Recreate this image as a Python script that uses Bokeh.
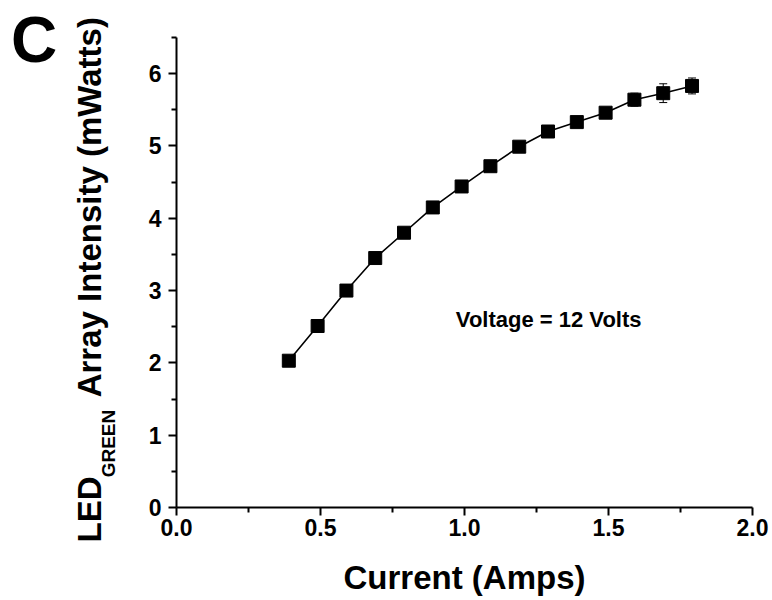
import math
import numpy as np
from bokeh.plotting import figure
from bokeh.models import ColumnDataSource, Whisker, TeeHead, Label, FixedTicker
from bokeh.embed import file_html
from bokeh.resources import INLINE

# ---- data ----
current_amps = [0.39, 0.49, 0.59, 0.69, 0.79, 0.89, 0.99, 1.09, 1.19, 1.29, 1.39, 1.49, 1.59, 1.69, 1.79]
intensity_mw = [2.03, 2.51, 3.00, 3.45, 3.80, 4.15, 4.44, 4.72, 4.99, 5.20, 5.33, 5.46, 5.64, 5.73, 5.83]
intensity_err = [0.02, 0.02, 0.03, 0.03, 0.03, 0.04, 0.04, 0.05, 0.05, 0.05, 0.06, 0.07, 0.09, 0.13, 0.11]

x_ticks = [0.0, 0.5, 1.0, 1.5, 2.0]
x_tick_labels = ["0.0", "0.5", "1.0", "1.5", "2.0"]
x_minor = [0.25, 0.75, 1.25, 1.75]
y_ticks = [0, 1, 2, 3, 4, 5, 6]
y_tick_labels = ["0", "1", "2", "3", "4", "5", "6"]
y_minor = [0.5, 1.5, 2.5, 3.5, 4.5, 5.5, 6.5]

FONT = "Liberation Sans"

y = np.array(intensity_mw)
e = np.array(intensity_err)
src = ColumnDataSource(dict(x=current_amps, y=intensity_mw, upper=y + e, lower=y - e))

p = figure(width=772, height=600, x_range=(0, 2.0), y_range=(0, 6.5),
           output_backend="svg", toolbar_location=None,
           min_border_left=176, min_border_right=20, min_border_top=37, min_border_bottom=93)
p.outline_line_color = None
p.xgrid.visible = False
p.ygrid.visible = False
p.background_fill_color = "white"
p.border_fill_color = "white"

# axes
for ax in (p.xaxis[0], p.yaxis[0]):
    ax.axis_line_width = 2
    ax.axis_line_color = "black"
    ax.major_tick_line_width = 2
    ax.minor_tick_line_width = 2
    ax.major_tick_line_color = "black"
    ax.minor_tick_line_color = "black"
    ax.major_tick_in = 0
    ax.major_tick_out = 8
    ax.minor_tick_in = 0
    ax.minor_tick_out = 5
    ax.major_label_text_font = FONT
    ax.major_label_text_font_style = "bold"
    ax.major_label_text_font_size = "23px"
    ax.major_label_text_color = "black"

p.xaxis[0].ticker = FixedTicker(ticks=x_ticks, minor_ticks=x_minor)
p.xaxis[0].major_label_overrides = {t: l for t, l in zip(x_ticks, x_tick_labels)}
p.xaxis[0].major_label_standoff = 3
p.yaxis[0].ticker = FixedTicker(ticks=y_ticks, minor_ticks=y_minor)
p.yaxis[0].major_label_overrides = {t: l for t, l in zip(y_ticks, y_tick_labels)}
p.yaxis[0].major_label_standoff = 7

p.xaxis[0].axis_label = "Current (Amps)"
p.xaxis[0].axis_label_text_font = FONT
p.xaxis[0].axis_label_text_font_style = "bold"
p.xaxis[0].axis_label_text_font_size = "33px"
p.xaxis[0].axis_label_text_color = "black"
p.xaxis[0].axis_label_standoff = 20

# error bars, line, markers
w = Whisker(source=src, base="x", upper="upper", lower="lower", line_width=1, line_color="black",
            upper_head=TeeHead(size=8, line_width=1, line_color="black"),
            lower_head=TeeHead(size=8, line_width=1, line_color="black"))
p.add_layout(w)
p.line("x", "y", source=src, line_color="black", line_width=1.6)
p.scatter("x", "y", source=src, marker="square", size=13, fill_color="black", line_color="black")

# y axis title with subscript (pieces of rotated text, placed in the left side panel)
common = dict(angle=math.pi / 2, angle_units="rad", text_font=FONT, text_font_style="bold",
              text_color="black", text_align="left", text_baseline="alphabetic")
p.add_layout(Label(x=-0.237, y=0.417, text="GREEN", text_font_size="19px", **common), "left")
p.add_layout(Label(x=-0.302, y=-0.483, text="LED", text_font_size="33px", **common), "left")
p.add_layout(Label(x=-0.302, y=1.524, text="Array Intensity (mWatts)", text_font_size="33px", **common), "left")

# panel letter
p.add_layout(Label(x=-0.575, y=6.46, text="C", text_font=FONT, text_font_style="bold",
                   text_font_size="64px", text_color="black", text_align="left",
                   text_baseline="alphabetic"), "left")

# annotation
p.add_layout(Label(x=0.97, y=2.6, text="Voltage = 12 Volts", text_font=FONT, text_font_style="bold",
                   text_font_size="22px", text_color="black", text_align="left",
                   text_baseline="middle"))

open("out.html", "w").write(file_html(p, INLINE))
